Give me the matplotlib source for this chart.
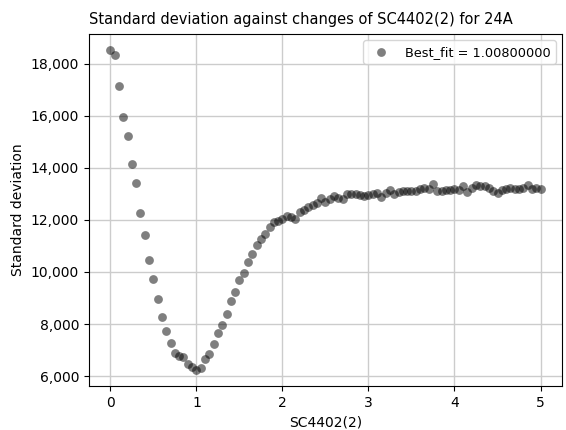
import matplotlib
matplotlib.use("Agg")
import matplotlib.pyplot as plt
import matplotlib.ticker as mticker
import numpy as np

x_vals = [round(i * 0.05, 2) for i in range(101)]
std_vals = [
    18527, 18346, 17142, 15935, 15219, 14142, 13412, 12258, 11423, 10450,
    9719, 8962, 8257, 7719, 7258, 6897, 6769, 6743, 6473, 6346,
    6231, 6320, 6654, 6846, 7231, 7666, 7962, 8373, 8897, 9231,
    9681, 9950, 10397, 10681, 11027, 11258, 11450, 11742, 11912, 11962,
    12027, 12142, 12104, 12027, 12319, 12396, 12511, 12577, 12666, 12858,
    12704, 12819, 12923, 12858, 12819, 12988, 13012, 13012, 12950, 12923,
    12950, 12988, 13050, 12885, 13050, 13142, 13012, 13088, 13115, 13115,
    13115, 13115, 13180, 13242, 13180, 13396, 13115, 13115, 13142, 13142,
    13180, 13142, 13308, 13088, 13242, 13358, 13300, 13320, 13219, 13115,
    13050, 13142, 13180, 13219, 13180, 13180, 13242, 13334, 13205, 13242,
    13205,
]
best_fit = 1.008

fig = plt.figure(figsize=(5.66, 4.30), dpi=100)
ax = fig.add_axes([0.157, 0.102, 0.836, 0.819])
ax.scatter(x_vals, std_vals, s=40, color='black', alpha=0.5, linewidths=0,
           label=f"Best_fit = {best_fit:.8f}")
ax.grid(True, color='#cccccc', linewidth=1)
ax.set_axisbelow(True)
ax.yaxis.set_major_formatter(mticker.FuncFormatter(lambda v, p: f"{int(v):,}"))
ax.set_xlabel("SC4402(2)")
ax.set_ylabel("Standard deviation")
ax.set_title("Standard deviation against changes of SC4402(2) for 24A",
             fontsize=10.5, x=0.448, pad=7)
ax.legend(loc='upper right', fontsize=9.3)
fig.savefig("out.png", dpi=100)
